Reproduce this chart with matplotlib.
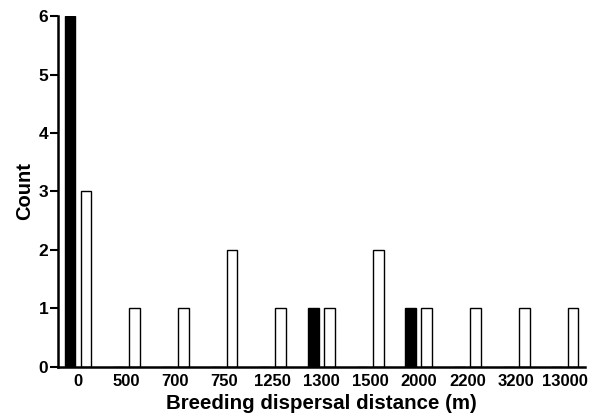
import numpy as np
import matplotlib.pyplot as plt

plt.rcParams['font.family'] = ['Liberation Sans', 'DejaVu Sans']

# data
distances = ['0', '500', '700', '750', '1250', '1300', '1500', '2000', '2200', '3200', '13000']
black_counts = [6, 0, 0, 0, 0, 1, 0, 1, 0, 0, 0]
white_counts = [3, 1, 1, 2, 1, 1, 2, 1, 1, 1, 1]

x = np.arange(len(distances))
w = 0.22
off = 0.165

fig = plt.figure(figsize=(5.96, 4.17), dpi=100)
ax = fig.add_axes([0.0973, 0.12, 0.884, 0.8416])

ax.bar(x - off, black_counts, w, color='black', edgecolor='black', linewidth=1)
ax.bar(x + off, white_counts, w, color='white', edgecolor='black', linewidth=1)

ax.set_xlim(-0.41, len(distances) - 1 + 0.41)
ax.set_ylim(0, 6)
ax.set_xticks(x)
ax.set_xticklabels(distances, fontsize=12, fontweight='bold')
ax.set_yticks(range(7))
ax.set_yticklabels([str(i) for i in range(7)], fontsize=12.5, fontweight='bold')
ax.tick_params(axis='x', length=0, pad=5)
ax.tick_params(axis='y', length=6, width=1.5, pad=1)

ax.spines['top'].set_visible(False)
ax.spines['right'].set_visible(False)
ax.spines['left'].set_linewidth(1.8)
ax.spines['bottom'].set_linewidth(1.8)

ax.set_xlabel('Breeding dispersal distance (m)', fontsize=14.8, fontweight='bold', labelpad=4)
ax.set_ylabel('Count', fontsize=14.5, fontweight='bold', labelpad=3)

fig.savefig('out.png', dpi=100)
